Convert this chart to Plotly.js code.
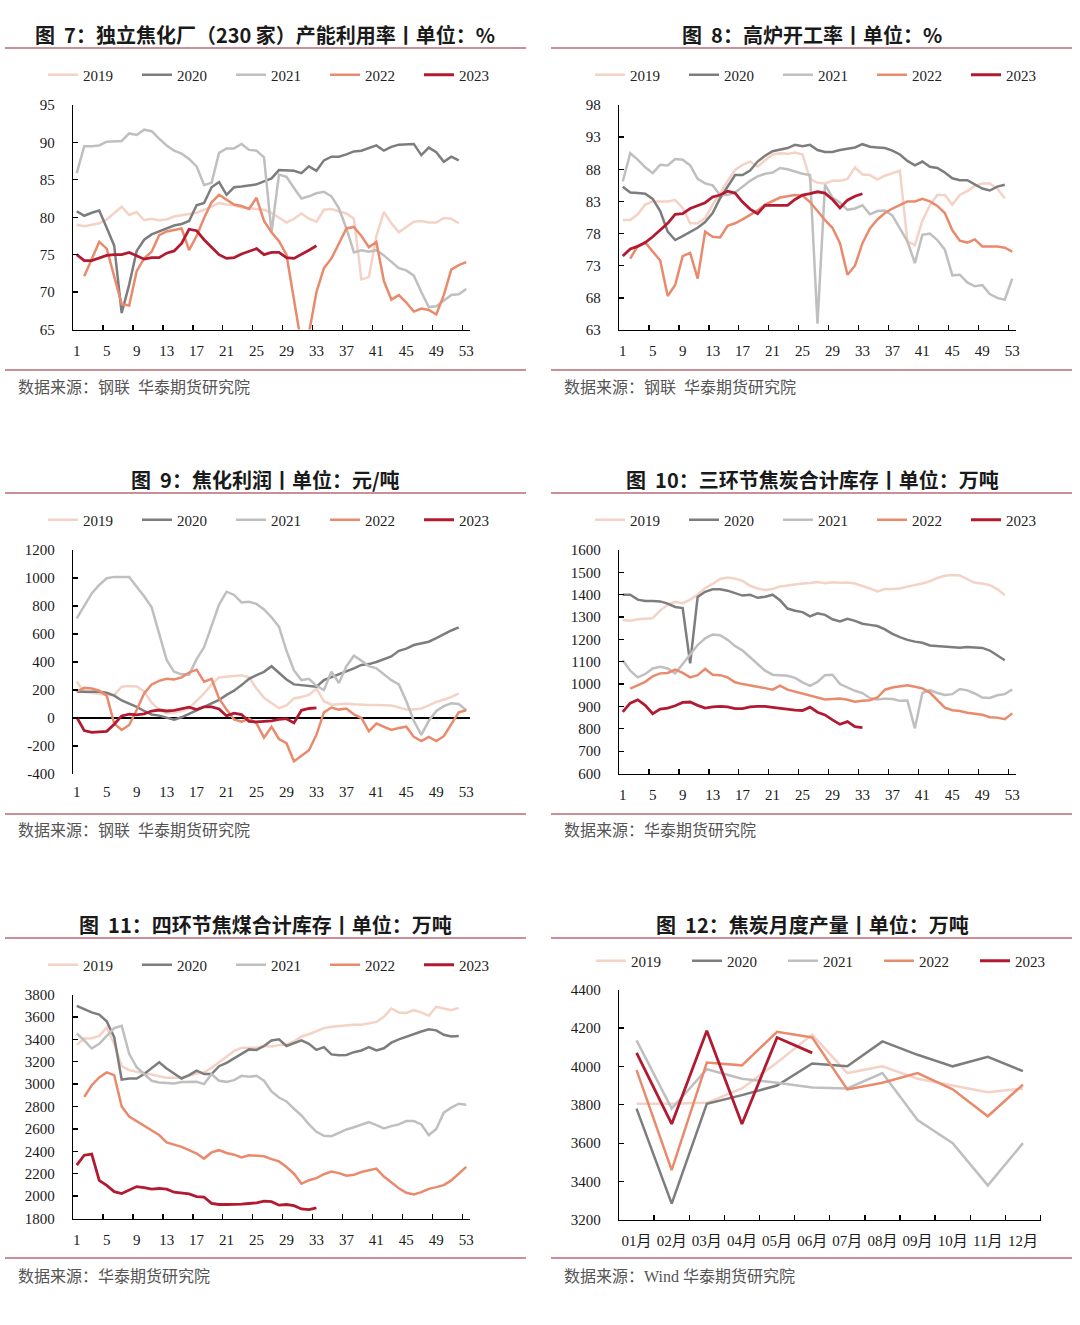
<!DOCTYPE html>
<html>
<head>
<meta charset="utf-8">
<script src="https://cdn.plot.ly/plotly-3.0.1.min.js"></script>
<style>
  html, body { margin: 0; padding: 0; background: #ffffff; }
  #chart { width: 1080px; height: 1325px; }
</style>
</head>
<body>
<div id="chart"></div>
<script>
// ---------- categories & tick labels ----------
const weeks = [1,2,3,4,5,6,7,8,9,10,11,12,13,14,15,16,17,18,19,20,21,22,23,24,25,26,27,
               28,29,30,31,32,33,34,35,36,37,38,39,40,41,42,43,44,45,46,47,48,49,50,51,52,53];
const weekTickVals = [1,5,9,13,17,21,25,29,33,37,41,45,49,53];
const weekTickText = ['1','5','9','13','17','21','25','29','33','37','41','45','49','53'];
const months = [1,2,3,4,5,6,7,8,9,10,11,12];
const monthLabels = ['01月','02月','03月','04月','05月','06月','07月','08月','09月','10月','11月','12月'];
const years = ['2019','2020','2021','2022','2023'];

// ---------- 图7 独立焦化厂（230家）产能利用率 % ----------
const util2019 = [79.0,78.8,79.0,79.2,79.7,80.6,81.4,80.3,80.7,79.6,79.8,79.6,79.7,80.1,80.3,80.5,80.6,81.0,81.5,81.9,
                  81.7,81.6,81.3,81.2,81.2,81.0,80.6,79.9,79.3,79.8,80.5,79.8,79.4,81.0,81.1,80.8,80.5,79.8,71.7,72.0,
                  77.5,80.7,79.2,78.0,78.7,79.4,79.5,79.3,79.3,79.9,79.8,79.2];
const util2020 = [80.8,80.2,80.6,80.9,78.6,76.2,67.2,71.0,75.5,77.0,77.7,78.1,78.5,78.9,79.1,79.5,81.6,81.9,84.0,84.7,
                  83.0,84.0,84.1,84.2,84.4,84.8,85.2,86.3,86.3,86.2,85.9,86.8,86.2,87.6,88.1,88.1,88.4,88.8,88.9,89.3,
                  89.6,88.9,89.4,89.7,89.8,89.8,88.3,89.3,88.7,87.4,88.1,87.6];
const util2021 = [85.9,89.5,89.5,89.6,90.1,90.1,90.2,91.2,91.0,91.7,91.5,90.5,89.6,88.9,88.5,87.8,86.8,84.3,84.6,88.6,
                  89.2,89.2,89.8,89.0,88.9,88.0,78.0,85.7,85.4,83.9,82.5,82.8,83.2,83.4,82.8,81.2,78.5,75.3,75.6,75.4,
                  75.6,74.9,74.0,73.2,72.9,72.2,70.0,68.0,68.1,68.9,69.6,69.7,70.4];
const util2022 = [null,72.1,74.5,76.7,75.8,72.1,68.4,68.2,72.8,74.5,75.4,77.6,78.1,78.3,78.5,75.6,77.5,79.9,82.0,83.0,
                  82.3,81.7,81.5,81.1,82.6,79.5,78.0,76.8,75.0,69.0,63.0,64.5,70.0,73.2,74.5,76.5,78.5,78.7,77.5,76.0,
                  76.7,71.5,69.0,69.6,68.6,67.4,67.8,67.6,67.0,69.6,73.0,73.6,74.0];
const util2023 = [75.0,74.2,74.2,74.5,74.9,75.0,75.0,75.3,74.8,74.4,74.6,74.6,75.2,75.5,76.5,78.4,78.2,77.0,76.0,75.0,
                  74.5,74.6,75.1,75.5,75.8,75.0,75.3,75.3,74.6,74.5,75.0,75.6,76.2];

// ---------- 图8 高炉开工率 % ----------
const bf2019 = [80.1,80.1,81.0,82.5,83.0,83.0,83.0,83.2,82.0,79.6,79.6,80.4,82.5,84.2,86.2,87.9,88.7,89.2,88.4,89.4,
                90.3,90.5,90.4,90.6,90.3,86.5,85.9,85.8,86.2,86.2,86.5,88.3,87.2,87.1,86.4,87.0,87.4,87.8,76.8,76.2,
                80.0,82.4,84.0,84.0,82.5,84.0,84.6,85.4,85.8,85.8,85.0,83.5];
const bf2020 = [85.3,84.4,84.3,84.2,83.4,81.5,78.3,77.0,77.6,78.2,78.9,79.8,81.2,83.5,85.4,87.1,87.1,87.8,89.2,90.1,
                90.8,91.0,91.3,91.8,91.6,91.8,91.0,90.7,90.7,91.0,91.2,91.4,91.9,91.5,91.4,91.3,90.9,90.3,89.3,88.6,
                89.2,88.4,88.2,87.5,86.6,86.3,86.3,85.7,85.0,84.7,85.3,85.6];
const bf2021 = [86.1,90.5,89.5,88.3,87.4,88.7,88.6,89.6,89.5,88.6,86.5,85.8,85.5,84.0,84.0,84.4,85.3,86.2,86.9,87.3,
                87.5,88.2,88.0,87.6,87.3,87.1,64.0,85.6,83.6,82.8,81.7,81.9,82.4,81.0,81.5,81.6,80.8,78.8,76.8,73.4,
                77.8,78.0,77.0,75.5,71.5,71.6,70.4,69.8,70.0,68.6,68.0,67.7,71.0];
const bf2022 = [null,74.1,76.1,76.6,75.2,73.8,68.3,70.0,74.5,75.0,71.0,78.3,77.5,77.4,79.2,79.6,80.2,80.9,81.6,82.5,
                83.0,83.6,83.8,84.0,83.9,82.9,81.5,80.1,78.9,76.5,71.6,73.0,76.5,78.8,80.2,81.2,81.9,82.5,83.0,83.0,
                83.4,83.0,82.3,81.2,78.5,76.9,76.6,77.1,76.0,76.0,76.0,75.8,75.2];
const bf2023 = [74.5,75.6,76.0,76.6,77.5,78.5,79.6,81.0,81.1,81.9,82.3,82.8,83.7,84.0,84.6,84.3,82.9,81.8,81.1,82.4,
                82.4,82.4,82.4,83.3,84.0,84.2,84.5,84.3,83.3,82.0,83.2,83.8,84.2];

// ---------- 图9 焦化利润 元/吨 ----------
const profitTickVals = [-400,-200,0,200,400,600,800,1000,1200];
const profitTickText = ['-400','-200','0','200','400','600','800','1000','1200'];
const pr2019 = [260,185,180,170,165,165,224,228,225,190,110,60,35,40,50,70,120,175,240,290,
                295,298,305,290,210,145,105,70,90,140,150,165,210,120,95,100,102,98,93,93,
                93,93,90,75,60,60,68,90,115,130,150,176];
const pr2020 = [188,188,188,188,180,160,125,105,80,50,25,17,5,-12,5,30,55,78,103,129,
                165,195,235,280,307,330,370,320,275,240,236,230,224,270,290,310,330,355,379,385,
                400,420,440,480,495,521,533,545,570,600,625,648];
const pr2021 = [712,800,890,950,998,1008,1010,1008,938,870,790,600,415,330,312,310,420,505,660,810,
                902,879,825,830,815,775,720,652,480,340,271,280,230,200,330,250,370,445,410,370,
                355,310,270,240,120,-20,-120,-20,50,85,105,100,55];
const pr2022 = [188,215,210,195,160,-40,-86,-50,57,176,240,265,280,275,290,325,345,260,280,140,
                60,-10,-26,-5,-38,-140,-62,-150,-180,-310,-270,-230,-120,40,75,60,68,25,0,-95,
                -40,-65,-85,-72,-62,-135,-165,-135,-165,-130,-40,40,55];
const pr2023 = [5,-90,-103,-100,-95,-45,15,28,22,30,50,57,50,55,68,78,60,80,80,65,
                15,35,25,-25,-28,-25,-20,-10,-5,-35,55,68,72];

// ---------- 图10 三环节焦炭合计库存 万吨 ----------
const coke2019 = [1287,1284,1290,1294,1295,1330,1355,1368,1362,1378,1400,1430,1448,1470,1477,1472,1462,1440,1428,1421,
                  1425,1437,1442,1446,1450,1452,1457,1451,1456,1453,1455,1450,1440,1428,1415,1425,1425,1428,1436,1442,
                  1450,1460,1475,1485,1488,1486,1470,1453,1450,1443,1425,1399];
const coke2020 = [1400,1400,1378,1372,1372,1370,1360,1345,1340,1093,1390,1413,1424,1424,1418,1408,1396,1400,1386,1391,
                  1400,1375,1338,1328,1322,1303,1317,1310,1290,1280,1292,1283,1270,1265,1260,1245,1225,1210,1198,1190,
                  1185,1173,1170,1170,1165,1163,1166,1164,1162,1150,1130,1107];
const coke2021 = [1107,1060,1030,1045,1070,1077,1070,1048,1090,1130,1175,1205,1222,1219,1198,1170,1150,1120,1090,1060,
                  1042,1040,1037,1028,1008,992,1010,1040,1042,1000,985,970,960,937,931,935,933,925,926,802,
                  960,973,960,951,955,978,972,958,940,938,950,955,976];
const coke2022 = [null,980,995,1010,1035,1048,1050,1065,1050,1030,1040,1068,1042,1040,1030,1008,1000,995,988,982,
                  975,993,975,966,956,948,938,931,933,935,930,921,926,928,940,975,985,990,995,988,
                  981,962,930,895,883,880,872,868,863,852,850,843,869];
const coke2023 = [876,915,930,905,868,888,893,903,918,920,905,893,898,900,898,890,890,898,900,900,
                  896,892,885,884,882,897,874,862,840,820,832,810,805];

// ---------- 图11 四环节焦煤合计库存 万吨 ----------
const coal2019 = [3350,3407,3410,3430,3505,3360,3160,3125,3110,3100,3085,3070,3056,3056,3060,3075,3095,3105,3145,3195,
                  3243,3295,3324,3324,3324,3340,3335,3348,3354,3380,3425,3445,3470,3500,3512,3520,3528,3530,3530,3541,
                  3555,3600,3675,3640,3635,3660,3640,3610,3690,3675,3660,3681];
const coal2020 = [3699,3670,3640,3620,3560,3420,3040,3050,3050,3090,3140,3195,3140,3095,3050,3080,3120,3090,3090,3160,
                  3190,3230,3270,3310,3305,3340,3390,3400,3340,3365,3390,3360,3305,3330,3265,3258,3260,3285,3300,3330,
                  3300,3320,3370,3400,3425,3445,3470,3490,3480,3440,3425,3430];
const coal2021 = [3452,3390,3318,3360,3430,3500,3520,3270,3150,3090,3030,3015,3010,3005,3018,3020,3020,3000,3090,3030,
                  3020,3035,3074,3065,3074,3030,2935,2880,2845,2780,2720,2640,2574,2538,2535,2565,2595,2615,2635,2660,
                  2633,2605,2625,2640,2670,2670,2640,2545,2600,2745,2790,2825,2815];
const coal2022 = [null,2886,2990,3060,3105,3080,2800,2710,2670,2630,2585,2545,2480,2462,2440,2410,2380,2335,2390,2410,
                  2385,2370,2345,2365,2362,2355,2330,2310,2260,2200,2110,2142,2160,2195,2220,2205,2182,2190,2215,2232,
                  2246,2175,2120,2070,2030,2014,2035,2065,2080,2098,2140,2200,2261];
const coal2023 = [2276,2365,2375,2140,2095,2040,2023,2055,2085,2075,2063,2068,2062,2035,2025,2020,1995,1990,1935,1925,
                  1925,1925,1928,1934,1940,1955,1950,1919,1925,1915,1885,1880,1895];

// ---------- 图12 焦炭月度产量 万吨 ----------
const prod2019 = [3805,3805,3810,3885,4020,4165,3965,4000,3935,3900,3865,3885];
const prod2020 = [3780,3285,3805,3850,3900,4015,4000,4130,4060,4000,4050,3975];
const prod2021 = [4135,3780,3985,3935,3915,3890,3885,3965,3720,3600,3380,3600];
const prod2022 = [3980,3460,4020,4005,4180,4150,3880,3915,3965,3880,3740,3905];
const prod2023 = [4070,3700,4185,3700,4150,4070];

// ---------- styling ----------
const W = 1080, H = 1325;
const fx = px => px / W;
const fy = py => 1 - py / H;
const SERIF = '"Liberation Serif", "Times New Roman", "Noto Sans CJK SC", serif';
const CJK = '"Noto Sans CJK SC", "Noto Sans", sans-serif';
const yearColors = ['#f4d2c6', '#7d7d7d', '#bfbfbf', '#e98a6c', '#b11a30'];
const RULE = '#b86a75';
const weekBounds = [4.5,8.5,12.5,16.5,20.5,24.5,28.5,32.5,36.5,40.5,44.5,48.5,52.5];
const monthBounds = [1.5,2.5,3.5,4.5,5.5,6.5,7.5,8.5,9.5,10.5,11.5,12.5];

const L = {left: 73, right: 470, titleX: 265, ruleL: 5, ruleR: 526, srcX: 16, legX: 43, legW: 49};
const R = {left: 619, right: 1016, titleX: 812, ruleL: 551, ruleR: 1072, srcX: 562, legX: 590, legW: 49};

const panels = [
  Object.assign({}, L, {title: '图\u00a0 7：独立焦化厂（230 家）产能利用率丨单位：%', source: '数据来源：钢联  华泰期货研究院',
    series: [util2019, util2020, util2021, util2022, util2023], x: weeks, top: 105, bottom: 329.5,
    yRange: [65, 95], yDtick: 5, row: 0}),
  Object.assign({}, R, {title: '图\u00a0 8：高炉开工率丨单位：%', source: '数据来源：钢联  华泰期货研究院',
    series: [bf2019, bf2020, bf2021, bf2022, bf2023], x: weeks, top: 105, bottom: 330,
    yRange: [63, 98], yDtick: 5, row: 0}),
  Object.assign({}, L, {title: '图\u00a0 9：焦化利润丨单位：元/吨', source: '数据来源：钢联  华泰期货研究院',
    series: [pr2019, pr2020, pr2021, pr2022, pr2023], x: weeks, top: 550, bottom: 774,
    yRange: [-400, 1200], yTickVals: profitTickVals, yTickText: profitTickText, zeroAxis: true, row: 1}),
  Object.assign({}, R, {title: '图\u00a0 10：三环节焦炭合计库存丨单位：万吨', source: '数据来源：华泰期货研究院',
    series: [coke2019, coke2020, coke2021, coke2022, coke2023], x: weeks, top: 550, bottom: 773.5,
    yRange: [600, 1600], yDtick: 100, row: 1}),
  Object.assign({}, L, {title: '图\u00a0 11：四环节焦煤合计库存丨单位：万吨', source: '数据来源：华泰期货研究院',
    series: [coal2019, coal2020, coal2021, coal2022, coal2023], x: weeks, top: 994.5, bottom: 1218.5,
    yRange: [1800, 3800], yDtick: 200, row: 2}),
  Object.assign({}, R, {title: '图\u00a0 12：焦炭月度产量丨单位：万吨', source: '数据来源：Wind 华泰期货研究院',
    series: [prod2019, prod2020, prod2021, prod2022, prod2023], x: months, top: 989.5, bottom: 1220,
    right: 1040.5, yRange: [3200, 4400], yDtick: 200, monthly: true, row: 2, legY: 961, legX: 591, legW: 51})
];

const rowY = [
  {title: 35, ruleTop: 48, legend: 75, ruleBot: 370, src: 387},
  {title: 480, ruleTop: 493, legend: 520, ruleBot: 814, src: 831},
  {title: 924, ruleTop: 938, legend: 965, ruleBot: 1258, src: 1276}
];

const traces = [];
const layout = {
  width: W, height: H,
  margin: {l: 0, r: 0, t: 0, b: 0},
  paper_bgcolor: '#ffffff', plot_bgcolor: '#ffffff',
  hovermode: false, dragmode: false,
  annotations: [], shapes: []
};

const axisLine = {linecolor: '#000000', linewidth: 1.3};
const tickFont = {family: SERIF, size: 15, color: '#1a1a1a'};

panels.forEach((p, i) => {
  const n = i + 1;
  const sfx = n === 1 ? '' : String(n);
  const legendId = 'legend' + sfx;
  const ry = rowY[p.row];

  p.series.forEach((ys, j) => {
    traces.push({
      type: 'scatter', mode: 'lines', name: years[j],
      x: p.x, y: ys,
      xaxis: 'x' + sfx, yaxis: 'y' + sfx, legend: legendId,
      line: {color: yearColors[j], width: j === 4 ? 2.8 : 2.5},
      connectgaps: false
    });
  });

  const xRange = p.monthly ? [0.5, 12.5] : [0.5, 53.5];
  const xa = {
    domain: [fx(p.left), fx(p.right)], anchor: 'y' + sfx,
    range: xRange, tickmode: 'array',
    tickvals: p.monthly ? months : weekTickVals,
    ticktext: p.monthly ? monthLabels : weekTickText,
    ticks: '', showgrid: false, zeroline: false,
    showline: !p.zeroAxis, ...axisLine,
    tickfont: tickFont, ticklabelstandoff: 7, fixedrange: true
  };
  if (!p.zeroAxis) {
    xa.minor = {tickmode: 'array', tickvals: p.monthly ? monthBounds : weekBounds,
                ticks: 'inside', ticklen: 5, tickwidth: 1.3, tickcolor: '#000000', showgrid: false};
  }
  layout['xaxis' + sfx] = xa;

  const ya = {
    domain: [fy(p.bottom), fy(p.top)], anchor: 'x' + sfx,
    range: p.yRange, ticks: 'inside', ticklen: 5, tickwidth: 1.3, tickcolor: '#000000',
    showline: true, ...axisLine, showgrid: false,
    zeroline: !!p.zeroAxis, zerolinecolor: '#000000', zerolinewidth: 1.3,
    tickfont: tickFont, ticklabelstandoff: 14, fixedrange: true
  };
  if (p.yTickVals) { ya.tickmode = 'array'; ya.tickvals = p.yTickVals; ya.ticktext = p.yTickText; }
  else { ya.tickmode = 'linear'; ya.tick0 = p.yRange[0]; ya.dtick = p.yDtick; }
  layout['yaxis' + sfx] = ya;

  if (p.zeroAxis) {
    // tick marks sitting on the zero line of the profit chart
    const y0 = fy(p.bottom), y1 = fy(p.top);
    const zeroPos = y0 + (0 - p.yRange[0]) / (p.yRange[1] - p.yRange[0]) * (y1 - y0);
    layout['xaxis7'] = {
      overlaying: 'x' + sfx, anchor: 'free', position: zeroPos, range: xRange,
      tickmode: 'array', tickvals: weekBounds, ticks: 'inside', ticklen: 5, tickwidth: 1.3,
      tickcolor: '#000000', showticklabels: false, showline: false, showgrid: false,
      zeroline: false, fixedrange: true
    };
  }

  layout[legendId] = {
    orientation: 'h', x: fx(p.legX), y: fy(p.legY || ry.legend),
    xanchor: 'left', yanchor: 'middle',
    font: {family: SERIF, size: 15, color: '#222222'},
    bgcolor: 'rgba(0,0,0,0)', borderwidth: 0,
    entrywidth: p.legW, entrywidthmode: 'pixels',
    traceorder: 'normal', itemclick: false, itemdoubleclick: false
  };

  layout.annotations.push({
    xref: 'paper', yref: 'paper', x: fx(p.titleX), y: fy(ry.title),
    xanchor: 'center', yanchor: 'middle', showarrow: false,
    text: '<b>' + p.title + '</b>',
    font: {family: CJK, size: 20, color: '#1a1a1a'}
  });
  layout.annotations.push({
    xref: 'paper', yref: 'paper', x: fx(p.srcX), y: fy(ry.src),
    xanchor: 'left', yanchor: 'middle', showarrow: false,
    text: p.source,
    font: {family: SERIF, size: 16, color: '#555555'}
  });
  [ry.ruleTop, ry.ruleBot].forEach(yy => {
    layout.shapes.push({
      type: 'line', xref: 'paper', yref: 'paper',
      x0: fx(p.ruleL), x1: fx(p.ruleR), y0: fy(yy), y1: fy(yy),
      line: {color: RULE, width: 1.5}
    });
  });
});

Plotly.newPlot('chart', traces, layout, {staticPlot: true, displayModeBar: false});
</script>
</body>
</html>
